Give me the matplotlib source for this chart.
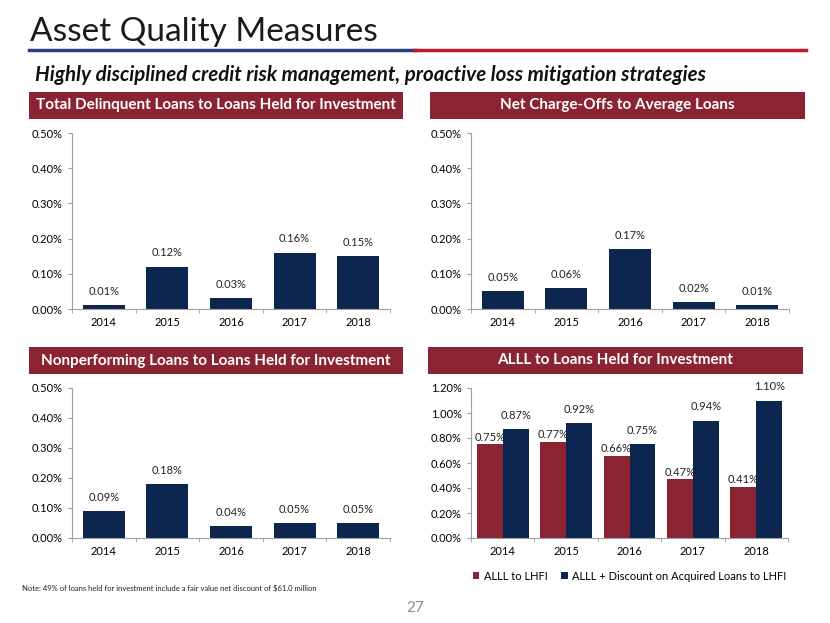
"""
plot.py — Asset Quality Measures slide (four bar panels).
"""

import numpy as np
import matplotlib
matplotlib.use("Agg")
import matplotlib.pyplot as plt
from matplotlib.patches import Rectangle
from matplotlib.ticker import FuncFormatter

years = ["2014", "2015", "2016", "2017", "2018"]

delinquent = [0.01, 0.12, 0.03, 0.16, 0.15]
charge_offs = [0.05, 0.06, 0.17, 0.02, 0.01]
nonperforming = [0.09, 0.18, 0.04, 0.05, 0.05]
alll = [0.75, 0.77, 0.66, 0.47, 0.41]
alll_disc = [0.87, 0.92, 0.75, 0.94, 1.10]

NAVY = "#0c2650"
MAROON = "#8a2432"
FONT = "Lato"

W, H = 830, 623
fig = plt.figure(figsize=(W / 100, H / 100), dpi=100)


def box(x0, y0, x1, y1):
    """pixel box (top-left origin) -> figure fraction rect"""
    return [x0 / W, 1 - y1 / H, (x1 - x0) / W, (y1 - y0) / H]


def header(x0, y0, x1, y1, text):
    fig.patches.append(Rectangle((x0 / W, 1 - y1 / H), (x1 - x0) / W, (y1 - y0) / H,
                                 transform=fig.transFigure, facecolor=MAROON,
                                 edgecolor="none", zorder=0))
    fig.text((x0 + x1) / 2 / W, 1 - (y0 + y1) / 2 / H, text, color="white",
             fontsize=11, fontweight="bold", family=FONT, ha="center", va="center")


def style_axes(ax, ymax, step):
    ax.set_ylim(0, ymax)
    ax.set_yticks(np.arange(0, ymax + 1e-9, step))
    ax.yaxis.set_major_formatter(FuncFormatter(lambda v, p: f"{v:.2f}%"))
    ax.set_xlim(-0.5, len(years) - 0.5)
    ax.set_xticks(range(len(years)))
    ax.set_xticklabels(years)
    ax.set_xticks(np.arange(-0.5, len(years)), minor=True)
    ax.tick_params(axis="x", which="major", length=0, pad=6, labelsize=8)
    ax.tick_params(axis="x", which="minor", length=3, color="#a0a0a0")
    ax.tick_params(axis="y", length=3, color="#a0a0a0", labelsize=8)
    for lab in ax.get_xticklabels() + ax.get_yticklabels():
        lab.set_family(FONT)
    for s in ("top", "right"):
        ax.spines[s].set_visible(False)
    for s in ("left", "bottom"):
        ax.spines[s].set_color("#a0a0a0")
        ax.spines[s].set_linewidth(0.8)
    ax.patch.set_alpha(0)


def single(rect, values, ymax=0.5, step=0.1):
    ax = fig.add_axes(box(*rect))
    x = np.arange(len(years))
    ax.bar(x, values, width=0.66, color=NAVY)
    for xi, v in zip(x, values):
        ax.annotate(f"{v:.2f}%", (xi, v), xytext=(0, 6), textcoords="offset points",
                    ha="center", va="bottom", fontsize=8, family=FONT, color="#222222")
    style_axes(ax, ymax, step)
    return ax


# title + rule
fig.text(30 / W, 1 - 32 / H, "Asset Quality Measures", fontsize=24, family=FONT,
         va="center", ha="left", color="#1a1a1a")
fig.add_artist(plt.Line2D([29 / W, 415 / W], [1 - 50 / H] * 2, color="#2d3f7c", lw=2.5))
fig.add_artist(plt.Line2D([415 / W, 806 / W], [1 - 50 / H] * 2, color="#c0182f", lw=2.5))
fig.text(35 / W, 1 - 75 / H,
         "Highly disciplined credit risk management, proactive loss mitigation strategies",
         fontsize=14.8, fontweight="bold", style="italic", family=FONT, va="center",
         color="#111111")

header(29, 92, 403, 119, "Total Delinquent Loans to Loans Held for Investment")
header(430, 92, 805, 119, "Net Charge-Offs to Average Loans")
header(29, 347, 403, 374, "Nonperforming Loans to Loans Held for Investment")
header(428, 347, 803, 374, "ALLL to Loans Held for Investment")

single((72, 133, 390, 309), delinquent)
single((471, 133, 789, 309), charge_offs)
single((72, 388, 390, 538), nonperforming)

# grouped ALLL panel
ax = fig.add_axes(box(471, 388, 788, 538))
x = np.arange(len(years))
bw = 0.41
ax.bar(x - bw / 2, alll, width=bw, color=MAROON, label="ALLL to LHFI")
ax.bar(x + bw / 2, alll_disc, width=bw, color=NAVY,
       label="ALLL + Discount on Acquired Loans to LHFI")
for xi, v in zip(x, alll):
    ax.annotate(f"{v:.2f}%", (xi - bw / 2, v), xytext=(0, 1), textcoords="offset points",
                ha="center", va="bottom", fontsize=8, family=FONT, color="#222222")
for xi, v in zip(x, alll_disc):
    ax.annotate(f"{v:.2f}%", (xi + bw / 2, v), xytext=(0, 6), textcoords="offset points",
                ha="center", va="bottom", fontsize=8, family=FONT, color="#222222")
style_axes(ax, 1.2, 0.2)
ax.legend(loc="upper center", bbox_to_anchor=(0.5, -0.15), ncol=2, frameon=False,
          prop={"family": FONT, "size": 8}, handlelength=0.6, handleheight=0.6,
          columnspacing=1.2, handletextpad=0.4)

fig.text(22 / W, 1 - 588 / H,
         "Note: 49% of loans held for investment include a fair value net discount of $61.0 million",
         fontsize=5.5, family=FONT, va="center", color="#222222")
fig.text(415 / W, 1 - 608 / H, "27", fontsize=11, family=FONT, ha="center", va="center",
         color="#8c8c8c")

fig.savefig("out.png", dpi=100)
